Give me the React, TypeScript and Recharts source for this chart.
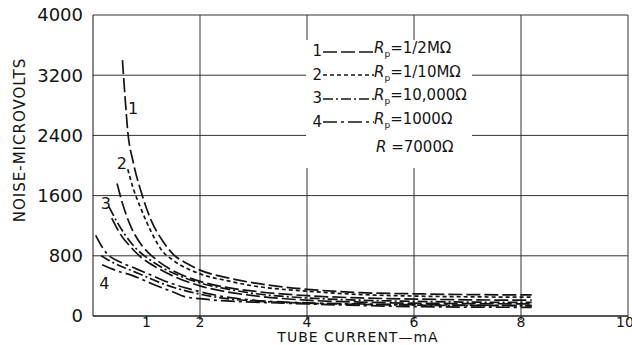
import {
    CartesianGrid,
    Line,
    LineChart,
    ReferenceDot,
    ReferenceLine,
    XAxis,
    YAxis,
} from "recharts";

// [tube current mA, noise µV]
const curve1 = [
    [0.55, 3400], [0.6, 2900], [0.65, 2450], [0.75, 2050], [0.9, 1650],
    [1.1, 1250], [1.3, 1000], [1.5, 820], [1.75, 700], [2, 610],
    [2.5, 510], [3, 440], [3.5, 390], [4, 355], [5, 310], [6, 295],
    [7, 285], [8.2, 280],
];
const curve2 = [
    [0.65, 1950], [0.75, 1700], [0.9, 1420], [1.1, 1100], [1.3, 860],
    [1.5, 740], [2, 560], [2.5, 470], [3, 400], [4, 330], [5, 285],
    [6, 265], [7, 255], [8.2, 250],
];
const curve2b = [
    [0.45, 1760], [0.55, 1500], [0.7, 1200], [0.9, 950], [1.1, 800],
    [1.4, 640], [1.75, 520], [2, 460], [2.5, 380], [3, 330], [4, 270],
    [5, 240], [6, 225], [7, 215], [8.2, 210],
];
const curve3 = [
    [0.3, 1450], [0.45, 1250], [0.6, 1080], [0.8, 900], [1, 780],
    [1.3, 640], [1.6, 540], [2, 440], [2.5, 360], [3, 300], [4, 240],
    [5, 210], [6, 195], [7, 185], [8.2, 180],
];
const curve3b = [
    [0.35, 1300], [0.5, 1100], [0.7, 920], [0.9, 780], [1.2, 640],
    [1.5, 530], [2, 400], [2.5, 320], [3, 270], [4, 210], [5, 185],
    [6, 170], [7, 165], [8.2, 160],
];
const curve4 = [
    [0.05, 1070], [0.15, 940], [0.26, 830], [0.5, 720], [0.8, 630],
    [1.1, 540], [1.4, 450], [1.8, 360], [2.2, 290], [2.6, 240],
    [3, 210], [4, 175], [5, 160], [6, 150], [7, 145], [8.2, 140],
];
const curve4b = [
    [0.15, 800], [0.4, 700], [0.7, 610], [1, 520], [1.3, 430],
    [1.6, 360], [2, 290], [2.5, 230], [3, 200], [4, 170], [5, 155],
    [6, 145], [8.2, 135],
];
const curve4c = [
    [0.17, 680], [0.45, 600], [0.73, 540], [1, 460], [1.25, 385],
    [1.5, 320], [1.7, 260], [2, 230], [2.5, 200], [3, 185], [4, 160],
    [5, 140], [6, 125], [8.2, 115],
];

const xTicks = [1, 2, 4, 6, 8, 10];
const xGrid = [2, 4, 6, 8, 10];
const yTicks = [0, 800, 1600, 2400, 3200, 4000];

const legendNumbers = ["1", "2", "3", "4"];
const legendValues = ["1/2MΩ", "1/10MΩ", "10,000Ω", "1000Ω"];

const curveTags = [
    { name: "1", x: 0.75, y: 2760 },
    { name: "2", x: 0.54, y: 2030 },
    { name: "3", x: 0.24, y: 1500 },
    { name: "4", x: 0.21, y: 440 },
];

const DASH_1 = "14 4";
const DASH_2 = "4 3";
const DASH_3 = "10 3 2 3";
const DASH_4 = "14 4 3 4";
const legendDashes = [DASH_1, DASH_2, DASH_3, DASH_4];

const INK = "#141414";
const FONT = "'DejaVu Sans', sans-serif";

const toPoints = (rows: number[][]) => rows.map(([x, y]) => ({ x, y }));

const series = [
    { key: "c1", data: curve1, dash: DASH_1 },
    { key: "c2", data: curve2, dash: DASH_2 },
    { key: "c2b", data: curve2b, dash: DASH_1 },
    { key: "c3", data: curve3, dash: DASH_3 },
    { key: "c3b", data: curve3b, dash: DASH_1 },
    { key: "c4", data: curve4, dash: DASH_4 },
    { key: "c4b", data: curve4b, dash: DASH_3 },
    { key: "c4c", data: curve4c, dash: DASH_4 },
];

function YLabel() {
    return (
        <text
            x={20}
            y={140}
            transform="rotate(-90 20 140)"
            textAnchor="middle"
            dominantBaseline="middle"
            fontSize={15}
            letterSpacing={1}
            fontFamily={FONT}
            fill={INK}
        >
            NOISE-MICROVOLTS
        </text>
    );
}

function XLabel() {
    return (
        <text
            x={358}
            y={342}
            textAnchor="middle"
            fontSize={14}
            letterSpacing={1}
            fontFamily={FONT}
            fill={INK}
        >
            TUBE CURRENT—mA
        </text>
    );
}

export default function App() {
    return (
        <div
            style={{
                position: "absolute",
                left: 0,
                top: 0,
                width: 632,
                height: 345,
                background: "#fff",
                fontFamily: FONT,
            }}
        >
            <LineChart
                width={632}
                height={345}
                margin={{ top: 15, right: 4, bottom: 0, left: 0 }}
            >
                <CartesianGrid vertical={false} stroke="#333" />

                {xGrid.map((v) => (
                    <ReferenceLine key={v} x={v} stroke="#333" />
                ))}

                <XAxis
                    type="number"
                    dataKey="x"
                    domain={[0, 10]}
                    ticks={xTicks}
                    height={29}
                    tickSize={4}
                    tickMargin={-3}
                    stroke={INK}
                    tick={{ fill: INK, fontSize: 14, fontFamily: FONT }}
                    label={<XLabel />}
                />

                <YAxis
                    type="number"
                    domain={[0, 4000]}
                    ticks={yTicks}
                    width={93}
                    tickLine={false}
                    tickMargin={4}
                    stroke={INK}
                    tick={{ fill: INK, fontSize: 18, fontFamily: FONT }}
                    label={<YLabel />}
                />

                {series.map((s) => (
                    <Line
                        key={s.key}
                        data={toPoints(s.data)}
                        dataKey="y"
                        type="monotone"
                        stroke={INK}
                        strokeWidth={1.7}
                        strokeDasharray={s.dash}
                        dot={false}
                        activeDot={false}
                        isAnimationActive={false}
                    />
                ))}

                {curveTags.map((t) => (
                    <ReferenceDot
                        key={t.name}
                        x={t.x}
                        y={t.y}
                        r={0}
                        stroke="none"
                        label={{
                            value: t.name,
                            fontSize: 16,
                            fill: INK,
                            fontFamily: FONT,
                        }}
                    />
                ))}
            </LineChart>

            <div
                style={{
                    position: "absolute",
                    left: 306,
                    top: 40,
                    width: 166,
                    height: 128,
                    background: "#fff",
                    fontSize: 15,
                    color: INK,
                    lineHeight: "23.5px",
                }}
            >
                {legendNumbers.map((n, i) => (
                    <div
                        key={n}
                        style={{ display: "flex", alignItems: "center", height: 23.5 }}
                    >
                        <span style={{ width: 16, textAlign: "right" }}>{n}</span>
                        <svg width={52} height={10}>
                            <line
                                x1={1}
                                y1={5}
                                x2={52}
                                y2={5}
                                stroke={INK}
                                strokeWidth={1.4}
                                strokeDasharray={legendDashes[i]}
                            />
                        </svg>
                        <span>
                            <i>R</i>
                            <sub style={{ fontSize: 9 }}>p</sub>={legendValues[i]}
                        </span>
                    </div>
                ))}
                <div style={{ paddingLeft: 70, marginTop: 2 }}>
                    <i>R</i> =7000Ω
                </div>
            </div>
        </div>
    );
}
